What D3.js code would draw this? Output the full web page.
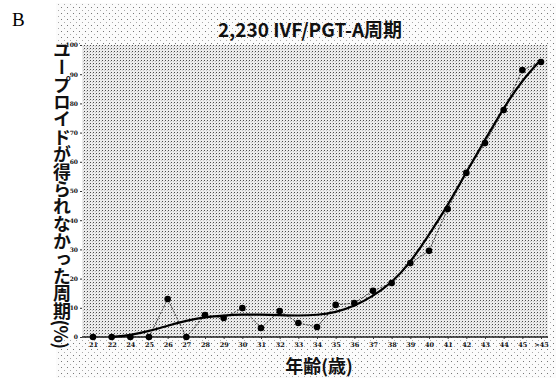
<!DOCTYPE html>
<html>
<head>
<meta charset="utf-8">
<script src="https://cdn.jsdelivr.net/npm/d3@7"></script>
<style>
  body { margin: 0; background: #fff; }
  svg { display: block; }
</style>
</head>
<body>
<svg id="chart" width="556" height="378"></svg>
<script>
// Age groups (x axis categories)
const ageLabels = ["21","22","24","25","26","27","28","29","30","31","32","33","34","35","36","37","38","39","40","41","42","43","44","45",">45"];
// Share of cycles with no euploid embryo, per age group (%)
const noEuploidRate = [0,0,0,0,13.0,0,7.5,6.5,9.9,3.1,8.9,4.8,3.4,11.0,11.6,15.8,18.5,25.3,29.5,43.8,56.2,66.4,77.7,91.4,94.2];
// Fitted trend curve, read per age group (%)
const trendRate = [null,0,0.6,2.0,3.9,5.6,6.8,7.4,7.7,7.7,7.5,7.3,7.5,8.4,10.6,14.0,18.5,25.5,35.0,45.0,56.5,67.5,78.5,88.0,95.0];
// Y axis ticks
const yTicks = [0,10,20,30,40,50,60,70,80,90,100];

const panelLetter = "B";
const chartTitle = "2,230 IVF/PGT-A周期";
const yTitle = "ユープロイドが得られなかった周期(%)";
const xTitle = "年齢(歳)";

const svg = d3.select("#chart");
const plot = { left: 82, right: 548, top: 45, bottom: 337 };

// halftone-like textures for the backgrounds
const defs = svg.append("defs");
const outerPat = defs.append("pattern")
  .attr("id", "outerDots").attr("patternUnits", "userSpaceOnUse")
  .attr("width", 6).attr("height", 6);
outerPat.append("rect").attr("width", 6).attr("height", 6).attr("fill", "#fbfbfb");
outerPat.append("rect").attr("x", 1).attr("y", 1).attr("width", 1).attr("height", 1).attr("fill", "#777");
outerPat.append("rect").attr("x", 4).attr("y", 4).attr("width", 1).attr("height", 1).attr("fill", "#aaa");

const plotPat = defs.append("pattern")
  .attr("id", "plotDots").attr("patternUnits", "userSpaceOnUse")
  .attr("width", 3).attr("height", 3);
plotPat.append("rect").attr("width", 3).attr("height", 3).attr("fill", "#ececec");
plotPat.append("rect").attr("x", 0).attr("y", 0).attr("width", 1).attr("height", 1).attr("fill", "#4a4a4a");
plotPat.append("rect").attr("x", 2).attr("y", 1).attr("width", 1).attr("height", 1).attr("fill", "#c4c4c4");

// outer frame and plot area
svg.append("rect").attr("x", 56).attr("y", 3).attr("width", 500).attr("height", 375)
  .attr("fill", "url(#outerDots)");
svg.append("rect").attr("x", 56).attr("y", plot.top).attr("width", plot.left - 56).attr("height", plot.bottom - plot.top + 2)
  .attr("fill", "#fff");
svg.append("rect").attr("x", plot.left).attr("y", plot.top)
  .attr("width", plot.right - plot.left).attr("height", plot.bottom - plot.top)
  .attr("fill", "url(#plotDots)");

// scales
const x = d3.scalePoint().domain(ageLabels).range([93, 541]);
const y = d3.scaleLinear().domain([0, 100]).range([plot.bottom, plot.top]);

// x axis
const xAxis = svg.append("g").attr("transform", `translate(0,${plot.bottom})`)
  .call(d3.axisBottom(x).tickSize(2).tickPadding(3));
xAxis.select(".domain").attr("d", `M${plot.left},0H${plot.right}`)
  .attr("stroke", "#222").attr("stroke-width", 1.6);
xAxis.selectAll(".tick line").attr("stroke", "#333");
xAxis.selectAll(".tick text")
  .attr("font-family", "'DejaVu Serif', serif").attr("font-size", 6.5)
  .attr("font-weight", "bold").attr("fill", "#111");

// y axis (labels and small ticks only)
const yAxis = svg.append("g").attr("transform", `translate(${plot.left},0)`)
  .call(d3.axisLeft(y).tickValues(yTicks).tickSize(2).tickPadding(2));
yAxis.select(".domain").remove();
yAxis.selectAll(".tick line").attr("stroke", "#333");
yAxis.selectAll(".tick text")
  .attr("font-family", "'DejaVu Serif', serif").attr("font-size", 6)
  .attr("font-weight", "bold").attr("fill", "#111");

// observed values: thin connecting line and dots
const pts = ageLabels.map((a, i) => ({ a, v: noEuploidRate[i] }));
svg.append("path").datum(pts)
  .attr("fill", "none").attr("stroke", "#333").attr("stroke-width", 0.9)
  .attr("stroke-dasharray", "2.5,1.2")
  .attr("d", d3.line().x(d => x(d.a)).y(d => y(d.v)));

// fitted trend curve
const trend = ageLabels.map((a, i) => ({ a, v: trendRate[i] })).filter(d => d.v !== null);
svg.append("path").datum(trend)
  .attr("fill", "none").attr("stroke", "#000").attr("stroke-width", 2.2)
  .attr("d", d3.line().x(d => x(d.a)).y(d => y(d.v)).curve(d3.curveBasis));

svg.append("g").selectAll("circle").data(pts).join("circle")
  .attr("cx", d => x(d.a)).attr("cy", d => y(d.v)).attr("r", 3.3)
  .attr("fill", "#000");

// texts
svg.append("text").attr("x", 12).attr("y", 26)
  .attr("font-family", "'Liberation Serif', serif").attr("font-size", 19)
  .attr("fill", "#000").text(panelLetter);

svg.append("text").attr("x", 310).attr("y", 37).attr("text-anchor", "middle")
  .attr("font-family", "'Noto Sans CJK JP', 'Noto Sans', sans-serif").attr("font-size", 19)
  .attr("font-weight", "bold").attr("fill", "#111").text(chartTitle);

svg.append("text").attr("x", 319).attr("y", 373).attr("text-anchor", "middle")
  .attr("font-family", "'Noto Sans CJK JP', sans-serif").attr("font-size", 18)
  .attr("font-weight", "bold").attr("fill", "#111").text(xTitle);

svg.append("text").attr("x", 62).attr("y", 41)
  .attr("font-family", "'Noto Sans CJK JP', sans-serif").attr("font-size", 18)
  .attr("font-weight", "bold").attr("fill", "#111")
  .attr("letter-spacing", -0.6)
  .style("writing-mode", "vertical-rl")
  .text(yTitle);
</script>
</body>
</html>
